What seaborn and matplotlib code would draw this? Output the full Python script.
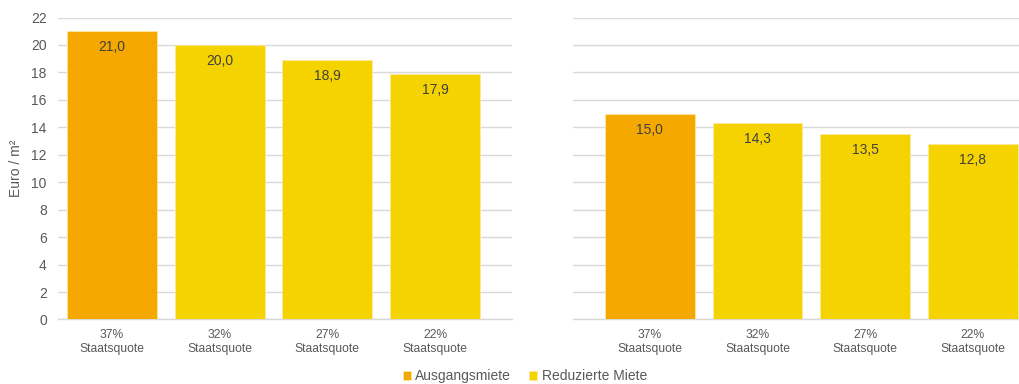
import matplotlib
matplotlib.use("Agg")
import matplotlib.pyplot as plt
import seaborn as sns
import pandas as pd

categories = ["37%\nStaatsquote", "32%\nStaatsquote", "27%\nStaatsquote", "22%\nStaatsquote"]
left_values = [21.0, 20.0, 18.9, 17.9]
right_values = [15.0, 14.3, 13.5, 12.8]
series = ["Ausgangsmiete", "Reduzierte Miete", "Reduzierte Miete", "Reduzierte Miete"]
yticks = list(range(0, 23, 2))

palette = {"Ausgangsmiete": "#F5A800", "Reduzierte Miete": "#F5D300"}

sns.set_theme(style="white")
plt.rcParams['font.family'] = ['Liberation Sans', 'DejaVu Sans']

fig = plt.figure(figsize=(10.19, 3.84), dpi=100)
axL = fig.add_axes([0.0569, 0.168, 0.4456, 0.7864])
axR = fig.add_axes([0.5623, 0.168, 0.4377, 0.7864], sharey=axL)

grid_c = "#D9D9D9"
text_c = "#595959"

for ax, vals, xl in [(axL, left_values, (-0.5, 3.715)), (axR, right_values, (-0.715, 3.43))]:
    df = pd.DataFrame({"cat": categories, "val": vals, "Serie": series})
    sns.barplot(data=df, x="cat", y="val", hue="Serie", palette=palette, dodge=False,
                saturation=1, width=0.835, ax=ax, legend=(ax is axL),
                edgecolor="#FCE8A0", linewidth=0.6, zorder=3)
    for c in ax.containers:
        ax.bar_label(c, labels=[f"{v:.1f}".replace(".", ",") for v in c.datavalues],
                     padding=-16.5, fontsize=10, color="#404040")
    ax.set_xlim(*xl)
    ax.set_ylim(0, 22)
    ax.set_yticks(yticks)
    ax.yaxis.grid(True, color=grid_c, linewidth=1, zorder=0)
    ax.set_axisbelow(True)
    for s in ["top", "right", "left"]:
        ax.spines[s].set_visible(False)
    ax.spines["bottom"].set_color(grid_c)
    ax.spines["bottom"].set_linewidth(1)
    ax.tick_params(axis="both", length=0, colors=text_c)
    ax.tick_params(axis="x", labelsize=8.7, pad=7)
    ax.tick_params(axis="y", labelsize=10, pad=8)
    ax.set_xlabel("")
    ax.set_ylabel("")

axR.tick_params(axis="y", labelleft=False)
axL.set_ylabel("Euro / m²", fontsize=10, color=text_c, labelpad=6)

handles, labels = axL.get_legend_handles_labels()
axL.get_legend().remove()
fig.legend(handles, labels, loc="lower center", bbox_to_anchor=(0.515, -0.03), ncol=2,
           frameon=False, fontsize=10, handlelength=0.6, handleheight=0.6,
           handletextpad=0.3, columnspacing=1.3, labelcolor=text_c)

fig.savefig("out.png", dpi=100)
